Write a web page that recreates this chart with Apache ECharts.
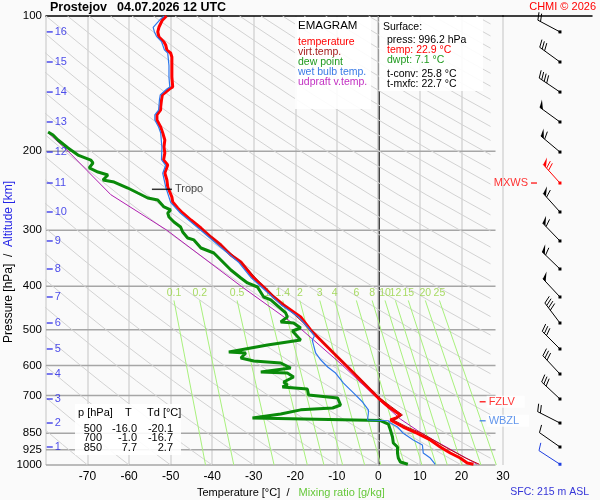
<!DOCTYPE html>
<html>
<head>
<meta charset="utf-8">
<script src="https://cdn.jsdelivr.net/npm/echarts@6/dist/echarts.min.js"></script>
<style>
  html, body { margin: 0; padding: 0; background: #fafafa; }
  #emagram { width: 600px; height: 500px; }
</style>
</head>
<body>
<div id="emagram"></div>
<script>
// pressure levels with labels (hPa)
const pressureTicks = [100, 200, 300, 400, 500, 600, 700, 850, 925, 1000];

// altitude marks: km and the pressure level they sit on
const altKm = [1, 2, 3, 4, 5, 6, 7, 8, 9, 10, 11, 12, 13, 14, 15, 16];
const altP = [911.8, 806.3, 712.9, 627.1, 551.6, 482.8, 422.5, 366.0, 317.0, 273.2, 235.5, 200.9, 172.2, 147.7, 126.6, 108.5];

// temperature profile
const tempP = [996.2, 989.8, 964.8, 940.3, 911.9, 879.7, 850, 823.0, 793.9, 785.8, 773.8, 742.7, 709.2, 680.7, 636.8,
  605.0, 563.1, 534.9, 500.4, 468.1, 440.2, 422.5, 401.4, 383.3, 353.1, 340.6, 323.6, 310.6, 296.6, 284.7, 274.6,
  267.7, 259.6, 253.0, 240.3, 231.9, 223.7, 214.7, 209.3, 201.9, 195.8, 188.9, 182.2, 176.7, 170.5, 166.1, 161.9,
  159.5, 153.8, 149.9, 145.4, 143.9, 136.7, 128.6, 123.4, 120.9, 119.1, 116.0, 114.3, 111.4, 108.5, 105.8, 102.1, 100];
const tempT = [22.9, 21.4, 19.7, 17.3, 14.9, 12.5, 9.4, 6.0, 2.9, 4.3, 5.3, 2.5, 0.0, -1.9, -5.0,
  -7.4, -10.8, -13.2, -16.3, -18.7, -22.8, -25.2, -27.6, -30.0, -33.1, -35.5, -37.9, -40.3, -42.7, -45.1, -47.1,
  -48.3, -49.5, -49.7, -50.7, -50.9, -51.4, -50.7, -51.7, -51.4, -51.6, -51.4, -51.9, -52.4, -53.3, -53.3, -52.4,
  -52.4, -52.2, -52.0, -50.3, -49.5, -49.7, -49.7, -49.7, -50.0, -50.9, -51.2, -51.6, -52.8, -53.1, -52.8, -52.0, -51.0];

// virtual temperature (lower part, mostly under the temperature line)
const virtP = [996.2, 964.8, 911.9, 850, 823, 793.9, 773.8, 709.2, 636.8, 563.1, 500.4, 440.2, 401.4, 353.1, 296.6];
const virtT = [24.3, 21.0, 16.1, 10.5, 6.9, 3.6, 5.8, 0.3, -4.8, -10.7, -16.2, -22.7, -27.5, -33.1, -42.7];

// dew point profile
const dewP = [996.2, 984.8, 964.8, 940.3, 911.9, 893.2, 866.2, 835.7, 810.4, 796, 785.8, 769.8, 753.7, 746.5, 735.1,
  709.2, 698.4, 677.2, 670.3, 663.5, 653.4, 636.8, 624.0, 620.8, 608.1, 592.7, 586.6, 577.6, 563.1, 560.2, 540.5,
  526.5, 521.4, 503.0, 495.3, 482.8, 480.3, 468.1, 458.6, 428.9, 422.5, 401.4, 393.2, 383.3, 367.8, 349.4, 337.2,
  328.6, 315.3, 312.2, 302.7, 295.1, 287.6, 280.3, 274.6, 270.4, 266.3, 256.9, 254.3, 247.9, 241.6, 234.3, 231.9,
  226.0, 222.6, 218.0, 212.5, 209.3, 204.0, 196.8, 188.9, 184.1, 181.3];
const dewT = [7.1, 5.3, 4.8, 4.6, 4.6, 3.6, 3.4, 2.9, 2.4, 0.5, -30.3, -23.5, -18.7, -11.0, -9.1,
  -9.8, -16.8, -17.1, -23.1, -21.9, -22.8, -20.4, -21.9, -28.3, -21.1, -23.5, -30.0, -33.1, -31.9, -36.0, -26.7,
  -18.7, -18.7, -20.7, -18.7, -20.4, -23.5, -21.9, -22.3, -25.9, -27.6, -29.1, -31.5, -33.1, -35.5, -37.9, -39.6,
  -42.7, -44.4, -45.9, -47.1, -47.6, -49.2, -50.4, -50.7, -50.0, -51.6, -53.1, -55.5, -57.9, -60.3, -63.6, -66.3,
  -65.1, -67.5, -69.6, -68.7, -69.2, -72.3, -74.7, -77.1, -78.3, -79.5];

// wet bulb temperature
const wetP = [996.2, 964.8, 940.3, 902.5, 879.7, 850, 823, 806.3, 797, 794, 786, 766, 754, 724, 691, 657, 624, 605,
  583, 563, 541, 527, 516, 496, 468, 440, 401, 383, 353, 324, 297, 275, 260, 240, 224, 215, 209, 196, 182, 176.7,
  170.5, 166, 162, 154, 150, 145.4, 144, 137, 129, 121, 119, 114, 111, 108.5, 106, 102, 100];
const wetT = [13.7, 12.5, 10.8, 10.6, 8.4, 6.0, 4.6, 2.9, 2.4, -2.6, -2.6, -2.4, -2.4, -3.8, -6.0, -8.4, -10.3, -12.2,
  -13.9, -15.1, -15.6, -15.9, -15.4, -16.8, -19.2, -23.4, -28.2, -30.6, -33.7, -38.5, -43.3, -47.6, -50.0, -51.2,
  -51.9, -51.2, -52.2, -52.1, -52.4, -52.9, -53.8, -53.8, -52.9, -52.7, -52.5, -50.9, -50.2, -50.4, -50.4, -50.7,
  -51.5, -52.2, -53.4, -53.9, -54.2, -52.6, -51.6];

// updraft virtual temperature (parcel)
const parcelP = [996.2, 850, 790, 700, 600, 500, 400, 300, 250, 200, 182];
const parcelT = [23.8, 10.4, 5.3, -1.0, -8.6, -18.4, -33.0, -50.9, -64.4, -74.7, -79.5];

// mixing ratio lines (g/kg): temperature at the top (430 hPa) and at 1000 hPa
const mixLabels = ['0.1', '0.2', '0.5', '1', '1.4', '2', '3', '4', '6', '8', '10', '12', '15', '20', '25'];
const mixTopT = [-49.2, -43.0, -34.0, -26.7, -23.0, -18.9, -14.1, -10.5, -5.3, -1.5, 1.6, 4.1, 7.2, 11.3, 14.7];
const mixBottomT = [-41.6, -34.8, -25.1, -17.1, -13.1, -8.6, -3.3, 0.6, 6.3, 10.5, 13.9, 16.6, 20.1, 24.7, 28.4];

// wind profile (surface first, then every km)
const barbP = [996.2, 911.8, 806.3, 712.9, 627.1, 551.6, 482.8, 422.5, 366.0, 317.0, 273.2, 235.5, 200.9, 172.2, 147.7, 126.6, 108.5];
const barbDir = [303, 305, 297, 313, 317, 315, 323, 317, 314, 316, 318, 318, 310, 306, 304, 306, 298];
const barbSpd = [10, 10, 20, 30, 30, 30, 40, 50, 60, 60, 60, 70, 60, 50, 40, 30, 20];

// table of standard levels
const tableP = ['500', '700', '850'];
const tableT = ['-16.0', '-1.0', '7.7'];
const tableTd = ['-20.1', '-16.7', '2.7'];

const FONT = '"Liberation Sans", Arial, sans-serif';
const zip = (ps, ts) => ps.map((p, i) => [ts[i], p]);

const chart = echarts.init(document.getElementById('emagram'));

// background grid of the diagram: dry adiabats every 10 degC of potential temperature
const adiabatLevels = [1000, 950, 900, 850, 800, 750, 700, 650, 600, 550, 500, 450, 400, 350, 300, 250, 200, 175, 150, 125, 100];
const adiabatSeries = [];
for (let th = -80; th <= 300; th += 10) {
  const thK = th + 273.15;
  const pEdge = 1000 * Math.pow((27 + 273.15) / thK, 1 / 0.286);
  if (pEdge < 100) continue;
  const pts = [];
  if (pEdge <= 1000) pts.push([27, pEdge]);
  adiabatLevels.forEach(p => {
    if (p < pEdge) pts.push([thK * Math.pow(p / 1000, 0.286) - 273.15, p]);
  });
  adiabatSeries.push({
    type: 'line', silent: true, symbol: 'none', z: 1,
    lineStyle: { color: '#d2d2d2', width: 1 },
    data: pts
  });
}

const pressureLines = pressureTicks.filter(p => p > 100).map(p => ({
  type: 'line', silent: true, symbol: 'none', z: 1, clip: false,
  lineStyle: { color: '#a6a6a6', width: 1.5 },
  data: [[-80, p], [28.2, p]]
}));

const mixSeries = mixLabels.map((w, i) => ({
  type: 'line', silent: true, symbol: 'none', z: 2,
  lineStyle: { color: '#a8f07c', width: 1 },
  data: [[mixTopT[i], 430], [mixBottomT[i], 1000]]
}));

const maxSpd = Math.max(...barbSpd);

function renderBarb(params, api) {
  const pt = api.coord([api.value(0), api.value(1)]);
  const dir = api.value(2) * Math.PI / 180;
  const spd = api.value(3);
  const color = params.dataIndex === 0 ? '#1f3fe0' : (spd === maxSpd ? '#ff0000' : '#000');
  const ux = Math.sin(dir), uy = -Math.cos(dir);
  const tip = [pt[0] + ux * 25, pt[1] + uy * 25];
  const a = 70 * Math.PI / 180;
  const fx = ux * Math.cos(a) - uy * Math.sin(a);
  const fy = ux * Math.sin(a) + uy * Math.cos(a);
  const at = d => [tip[0] - ux * d, tip[1] - uy * d];
  const kids = [{
    type: 'line', shape: { x1: pt[0], y1: pt[1], x2: tip[0], y2: tip[1] },
    style: { stroke: color, lineWidth: 1 }
  }];
  let rest = spd, pos = 0;
  while (rest >= 50) {
    const b0 = at(pos), b1 = at(pos + 4);
    kids.push({ type: 'polygon', shape: { points: [b0, [b0[0] + fx * 8, b0[1] + fy * 8], b1] }, style: { fill: color } });
    pos += 5; rest -= 50;
  }
  while (rest >= 10) {
    const b = at(pos);
    kids.push({ type: 'line', shape: { x1: b[0], y1: b[1], x2: b[0] + fx * 8, y2: b[1] + fy * 8 }, style: { stroke: color, lineWidth: 1 } });
    pos += 3; rest -= 10;
  }
  if (rest >= 5) {
    const b = at(pos + 3);
    kids.push({ type: 'line', shape: { x1: b[0], y1: b[1], x2: b[0] + fx * 4, y2: b[1] + fy * 4 }, style: { stroke: color, lineWidth: 1 } });
  }
  kids.push({ type: 'rect', shape: { x: pt[0] - 1.5, y: pt[1] - 1.5, width: 3, height: 3 }, style: { fill: color } });
  return { type: 'group', children: kids };
}

const txt = (x, y, text, color, size, extra) => ({
  type: 'text', x, y, z: 101,
  style: Object.assign({ text, fill: color, font: size + 'px ' + FONT, verticalAlign: 'middle' }, extra || {})
});

const legendItems = [['temperature', '#ff0000'], ['virt.temp.', '#a51c1c'], ['dew point', '#1f9a1f'],
  ['wet bulb temp.', '#3a7be6'], ['udpraft v.temp.', '#c22fc2']];

const graphics = [
  { type: 'rect', z: 100, shape: { x: 295, y: 17, width: 76, height: 92 }, style: { fill: 'rgba(255,255,255,0.9)' } },
  { type: 'rect', z: 100, shape: { x: 379, y: 17, width: 104, height: 74 }, style: { fill: 'rgba(255,255,255,0.9)' } },
  { type: 'rect', z: 100, shape: { x: 75, y: 404, width: 106, height: 51 }, style: { fill: 'rgba(255,255,255,0.9)' } },
  txt(50, 8, 'Prostejov', '#000', 12.5, { font: 'bold 12.5px ' + FONT }),
  txt(117, 8, '04.07.2026 12 UTC', '#000', 12.5, { font: 'bold 12.5px ' + FONT }),
  txt(596, 7, 'CHMI \u00a9 2026', '#ff0000', 11, { align: 'right' }),
  txt(298, 26, 'EMAGRAM', '#000', 11.5),
  ...legendItems.map((it, i) => txt(298, 42 + i * 10, it[0], it[1], 10.5)),
  txt(383, 27, 'Surface:', '#000', 10.5),
  txt(387, 40, 'press: 996.2 hPa', '#000', 10.5),
  txt(387, 50, 'temp: 22.9 \u00b0C', '#ff0000', 10.5),
  txt(387, 60, 'dwpt: 7.1 \u00b0C', '#1f9a1f', 10.5),
  txt(387, 74, 't-conv: 25.8 \u00b0C', '#000', 10.5),
  txt(387, 84, 't-mxfc: 22.7 \u00b0C', '#000', 10.5),
  txt(78, 413, 'p [hPa]', '#000', 11),
  txt(125, 413, 'T', '#000', 11),
  txt(147, 413, 'Td [\u00b0C]', '#000', 11),
  ...tableP.map((v, i) => txt(102, 429 + i * 9.3, v, '#000', 11, { align: 'right' })),
  ...tableT.map((v, i) => txt(137, 429 + i * 9.3, v, '#000', 11, { align: 'right' })),
  ...tableTd.map((v, i) => txt(173, 429 + i * 9.3, v, '#000', 11, { align: 'right' })),
  {
    type: 'text', x: 9, y: 262, rotation: Math.PI / 2, z: 101,
    style: {
      text: '{a|Pressure [hPa]  /  }{b|Altitude [km]}', font: '12px ' + FONT,
      align: 'center', verticalAlign: 'middle',
      rich: { a: { fill: '#000', font: '12px ' + FONT }, b: { fill: '#2424e6', font: '12px ' + FONT } }
    }
  },
  {
    type: 'text', x: 197, y: 493, z: 101,
    style: {
      text: '{a|Temperature [\u00b0C]  /   }{b|Mixing ratio [g/kg]}', font: '11px ' + FONT,
      align: 'left', verticalAlign: 'middle',
      rich: { a: { fill: '#000', font: '11px ' + FONT }, b: { fill: '#66c83a', font: '11px ' + FONT } }
    }
  },
  txt(589, 492, 'SFC: 215 m ASL', '#3535d8', 10.5, { align: 'right' })
];

const option = {
  animation: false,
  backgroundColor: '#fafafa',
  textStyle: { fontFamily: FONT },
  grid: [
    { left: 46, top: 16, width: 457, height: 449 },
    { left: 503, top: 16, width: 89, height: 449 }
  ],
  xAxis: [
    {
      gridIndex: 0, type: 'value', min: -80, max: 30, interval: 10, position: 'bottom',
      axisLine: { show: false }, axisTick: { show: false },
      axisLabel: { color: '#000', fontSize: 12, margin: 6, formatter: v => (v === -80 ? '' : String(v)) },
      splitLine: { show: true, lineStyle: { color: '#d6d6d6', width: 1.5 } }
    },
    {
      gridIndex: 0, type: 'value', min: -80, max: 30, position: 'top',
      axisLine: { show: true, lineStyle: { color: '#000', width: 1.5 } },
      axisTick: { show: false }, axisLabel: { show: false }, splitLine: { show: false }
    },
    {
      gridIndex: 1, type: 'value', min: 0, max: 100, position: 'top',
      axisLine: { show: true, lineStyle: { color: '#000', width: 1.5 } },
      axisTick: { show: false }, axisLabel: { show: false }, splitLine: { show: false }
    }
  ],
  yAxis: [
    {
      gridIndex: 0, type: 'log', logBase: 10, min: 100, max: 1000, inverse: true,
      axisLine: { show: true, lineStyle: { color: '#000', width: 1.5 } },
      axisTick: { show: false }, splitLine: { show: false },
      axisLabel: { customValues: pressureTicks, color: '#000', fontSize: 11.5, margin: 4, formatter: v => String(Math.round(v)) }
    },
    { gridIndex: 1, type: 'log', logBase: 10, min: 100, max: 1000, inverse: true, show: false }
  ],
  graphic: graphics,
  series: [
    {
      type: 'line', silent: true, symbol: 'none', z: 1, clip: false,
      lineStyle: { color: '#9a9a9a', width: 1.5 },
      data: [[0, 100], [0, 1000]]
    },
    ...pressureLines,
    ...adiabatSeries,
    ...mixSeries,
    {
      type: 'scatter', silent: true, z: 2, symbolSize: 1, itemStyle: { color: 'transparent' },
      label: { show: true, position: 'top', distance: 1, color: '#92d23c', fontSize: 10.5, formatter: p => p.value[2] },
      data: mixLabels.map((w, i) => [mixTopT[i], 430, w])
    },
    {
      name: 'updraft v.temp.', type: 'line', symbol: 'none', z: 3,
      lineStyle: { color: '#b01eb0', width: 1 },
      data: zip(parcelP, parcelT)
    },
    {
      name: 'dew point', type: 'line', symbol: 'none', z: 4,
      lineStyle: { color: '#0a8a0a', width: 3 },
      data: zip(dewP, dewT)
    },
    {
      name: 'temperature', type: 'line', symbol: 'none', z: 4,
      lineStyle: { color: '#ff0000', width: 3 },
      data: zip(tempP, tempT)
    },
    {
      name: 'virt.temp.', type: 'line', symbol: 'none', z: 5,
      lineStyle: { color: '#c01010', width: 1 },
      data: zip(virtP, virtT)
    },
    {
      name: 'wet bulb temp.', type: 'line', symbol: 'none', z: 5,
      lineStyle: { color: '#2f78ea', width: 1.2 },
      data: zip(wetP, wetT)
    },
    {
      type: 'scatter', silent: true, z: 6, symbol: 'rect', symbolSize: [6, 1.5],
      itemStyle: { color: '#2020e6' },
      label: { show: true, position: 'right', distance: 2, color: '#2020e6', fontSize: 11, formatter: p => p.value[2] },
      data: altKm.map((k, i) => [-79.1, altP[i], k])
    },
    {
      type: 'scatter', silent: true, z: 6, symbol: 'rect', symbolSize: [20, 1.5],
      itemStyle: { color: '#000' },
      label: { show: true, position: 'right', distance: 3, color: '#111', fontSize: 11, formatter: 'Tropo' },
      data: [[-52.1, 243.2]]
    },
    {
      type: 'scatter', silent: true, z: 6, symbol: 'rect', symbolSize: [6, 1.5],
      itemStyle: { color: '#ff0000' },
      label: {
        show: true, position: 'right', distance: 1, color: '#ff0000', fontSize: 11, formatter: 'FZLV',
        backgroundColor: '#fff', padding: [1, 10, 0, 2]
      },
      data: [[25.1, 723]]
    },
    {
      type: 'scatter', silent: true, z: 6, symbol: 'rect', symbolSize: [6, 1.5],
      itemStyle: { color: '#3a7be6' },
      label: {
        show: true, position: 'right', distance: 1, color: '#3a7be6', fontSize: 11, formatter: 'WBZL',
        backgroundColor: '#fff', padding: [1, 10, 0, 2]
      },
      data: [[25.1, 797]]
    },
    {
      type: 'scatter', silent: true, z: 6, xAxisIndex: 2, yAxisIndex: 1, symbol: 'rect', symbolSize: [6, 1.5],
      itemStyle: { color: '#ff0000' },
      label: { show: true, position: 'left', distance: 3, color: '#ff0000', fontSize: 11, formatter: 'MXWS' },
      data: [[34.8, 235.5]]
    },
    {
      type: 'custom', silent: true, z: 6, xAxisIndex: 2, yAxisIndex: 1, clip: false,
      renderItem: renderBarb,
      encode: { x: 0, y: 1 },
      data: barbP.map((p, i) => [64, p, barbDir[i], barbSpd[i]])
    }
  ]
};

chart.setOption(option);
</script>
</body>
</html>
